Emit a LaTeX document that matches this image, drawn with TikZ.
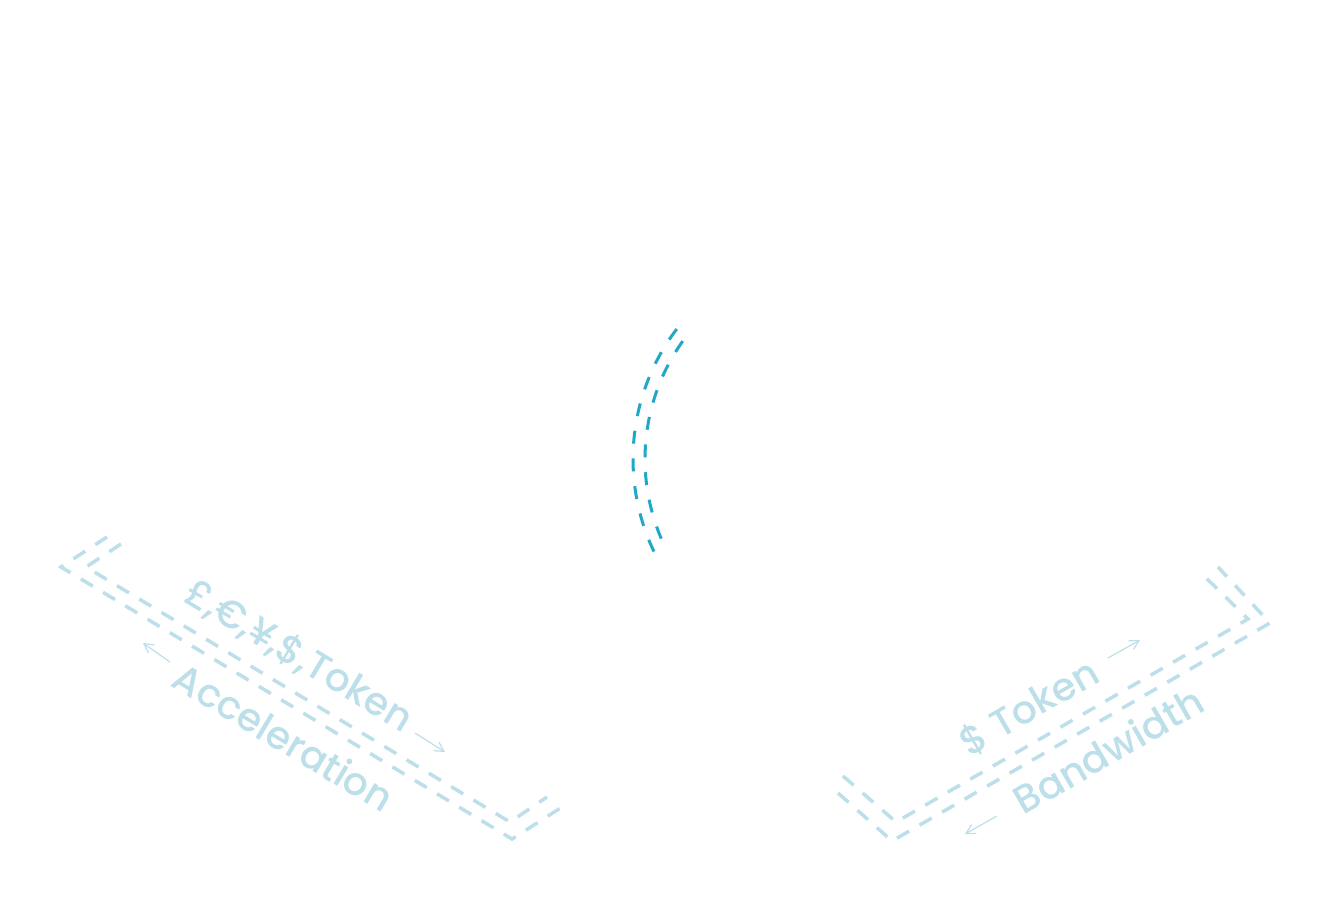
\documentclass[tikz,border=0pt]{standalone}
\usepackage{fontspec}
\setmainfont{Poppins Medium}
\usetikzlibrary{arrows.meta}
\definecolor{palecyan}{HTML}{BCDFE9}
\definecolor{arccyan}{HTML}{20A8C6}
\begin{document}
\begin{tikzpicture}[
                x=1pt, y=-1pt,
                trackline/.style={draw=palecyan, line width=3.5pt, dash pattern=on 14pt off 12pt},
                arcline/.style={draw=arccyan, line width=3pt, dash pattern=on 13pt off 14.8pt},
                tracktext/.style={text=palecyan, inner sep=0pt, font=\fontsize{39}{46}\selectfont},
                flowarrow/.style={draw=palecyan, line width=1.2pt, -{Straight Barb[length=9pt,width=10pt]}}
            ]

            \useasboundingbox (0,0) rectangle (1324,906);

            \draw[trackline] (107,537) -- (61,567) -- (512,839) -- (562,807);
            \draw[trackline] (121,544) -- (86,567) -- (510,822) -- (547,797);
            \draw[trackline] (838,793) -- (892,841) -- (1270,623) -- (1218,567);
            \draw[trackline] (843,776) -- (896,822) -- (1248,619) -- (1200,572);

            \coordinate (hub) at (848,459);
            \draw[arcline] (hub) ++(217.2:215) arc (217.2:154.5:215);
            \draw[arcline] (hub) ++(215.5:203) arc (215.5:156.9:203);

            \node[tracktext, rotate=-31] (leftcur) at (299,656) {£,€,¥,\$,Token};
            \node[tracktext, rotate=-31] (leftacc) at (284,737) {Acceleration};
            \node[tracktext, rotate=30] (rightcur) at (1029,707) {\$ Token};
            \node[tracktext, rotate=30] (rightbw) at (1108,750) {Bandwidth};

            \coordinate (curtail) at (415,733);
            \coordinate (curtip) at (445,752);
            \coordinate (acctail) at (170,662);
            \coordinate (acctip) at (143,643);
            \coordinate (tokentail) at (1108,658);
            \coordinate (tokentip) at (1140,640);
            \coordinate (bwtail) at (997,816);
            \coordinate (bwtip) at (965,834);

            \draw[flowarrow] (curtail) -- (curtip);
            \draw[flowarrow] (acctail) -- (acctip);
            \draw[flowarrow] (tokentail) -- (tokentip);
            \draw[flowarrow] (bwtail) -- (bwtip);

        \end{tikzpicture}
\end{document}
